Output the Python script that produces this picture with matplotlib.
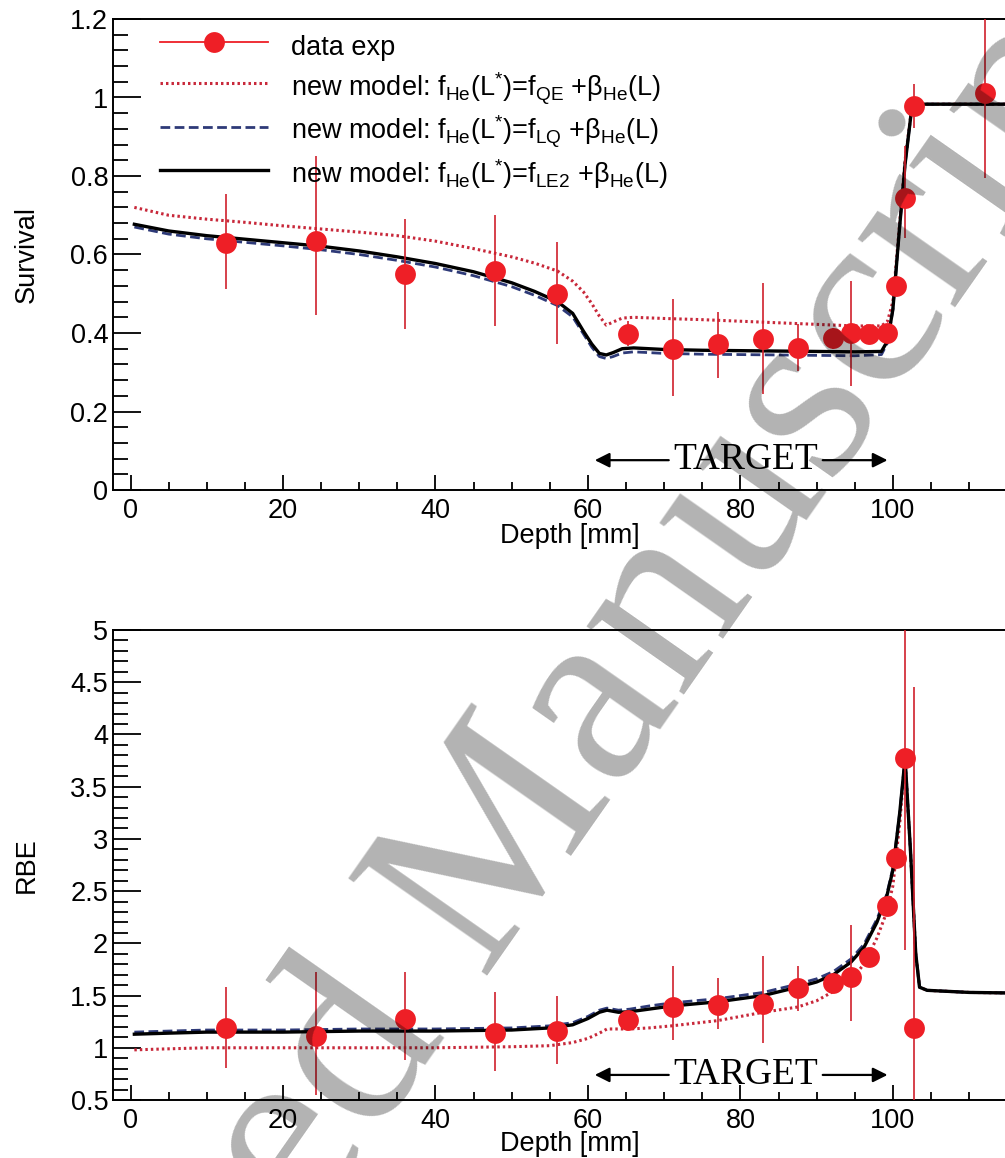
import numpy as np
import matplotlib
matplotlib.use('Agg')
import matplotlib.pyplot as plt
from matplotlib.lines import Line2D
from matplotlib.ticker import MultipleLocator, FuncFormatter

plt.rcParams['font.family'] = ['Liberation Sans', 'DejaVu Sans']
plt.rcParams['mathtext.fontset'] = 'custom'
plt.rcParams['mathtext.rm'] = 'Liberation Sans'
plt.rcParams['mathtext.it'] = 'Liberation Sans:italic'
plt.rcParams['mathtext.bf'] = 'Liberation Sans:bold'

# measured depths of the cell samples [mm]
depth = [12.5, 24.3, 36.0, 47.8, 56.0, 65.2, 71.2, 77.0, 82.9, 87.5, 92.2, 94.5,
         96.9, 99.2, 100.4, 101.6, 102.8, 112.1]

# survival data (value, lower end, upper end of error bar)
surv = [0.630, 0.634, 0.550, 0.558, 0.500, 0.397, 0.360, 0.371, 0.385, 0.363, 0.388, 0.399,
        0.397, 0.400, 0.520, 0.745, 0.978, 1.012]
surv_lo = [0.511, 0.445, 0.410, 0.418, 0.373, 0.367, 0.240, 0.286, 0.244, 0.303, 0.358, 0.265,
           0.385, 0.388, 0.505, 0.643, 0.923, 0.796]
surv_hi = [0.754, 0.850, 0.690, 0.700, 0.632, 0.430, 0.486, 0.454, 0.528, 0.422, 0.413, 0.532,
           0.409, 0.412, 0.535, 0.876, 1.034, 1.230]

# RBE data (no value for the last depth)
rbe = [1.19, 1.11, 1.28, 1.14, 1.16, 1.27, 1.39, 1.41, 1.42, 1.57, 1.62, 1.68,
       1.87, 2.36, 2.82, 3.77, 1.19]
rbe_lo = [0.81, 0.55, 0.88, 0.78, 0.84, 1.24, 1.07, 1.18, 1.05, 1.35, 1.59, 1.26,
          1.84, 2.33, 2.78, 1.94, -2.10]
rbe_hi = [1.58, 1.73, 1.73, 1.53, 1.50, 1.30, 1.78, 1.67, 1.88, 1.78, 1.65, 2.18,
          1.90, 2.39, 2.86, 5.70, 4.45]

# model curves, survival
sx = [0.5, 5, 10, 15, 20, 25, 30, 35, 40, 45, 50, 53, 56, 58, 59.4, 60.5, 61.5, 62.4,
      63.3, 64.5, 66, 70, 75, 80, 85, 90, 95, 98.5, 99.3, 100, 100.8, 101.6, 102.4, 103, 110, 120]
s_le2 = [0.677, 0.660, 0.648, 0.639, 0.630, 0.621, 0.609, 0.594, 0.577, 0.556, 0.528, 0.506,
         0.480, 0.450, 0.405, 0.372, 0.348, 0.344, 0.350, 0.360, 0.362, 0.358, 0.356, 0.355,
         0.354, 0.353, 0.352, 0.353, 0.380, 0.460, 0.650, 0.830, 0.960, 0.983, 0.983, 0.983]
s_lq = [0.670, 0.652, 0.640, 0.631, 0.622, 0.612, 0.600, 0.585, 0.568, 0.546, 0.518, 0.496,
        0.470, 0.441, 0.398, 0.364, 0.340, 0.335, 0.340, 0.349, 0.352, 0.348, 0.346, 0.345,
        0.344, 0.343, 0.342, 0.345, 0.375, 0.460, 0.650, 0.830, 0.960, 0.983, 0.983, 0.983]
s_qe = [0.720, 0.700, 0.690, 0.682, 0.673, 0.665, 0.657, 0.648, 0.634, 0.615, 0.594, 0.578,
        0.558, 0.532, 0.505, 0.475, 0.443, 0.420, 0.428, 0.438, 0.440, 0.437, 0.434, 0.430,
        0.426, 0.422, 0.418, 0.418, 0.430, 0.480, 0.660, 0.840, 0.962, 0.983, 0.983, 0.983]

# model curves, RBE
rx = [0.5, 5, 10, 20, 30, 40, 50, 55, 58, 60, 61.5, 62.5, 64, 65.5, 68, 71, 77, 83, 87.5,
      90, 92.2, 94.5, 96.2, 97.9, 99.2, 100, 100.9, 101.6, 102.3, 103, 103.5, 104.5, 110, 120]
r_le2 = [1.13, 1.14, 1.15, 1.15, 1.16, 1.16, 1.17, 1.19, 1.22, 1.28, 1.34, 1.36, 1.34, 1.345,
         1.37, 1.40, 1.44, 1.50, 1.58, 1.63, 1.70, 1.82, 1.96, 2.20, 2.45, 2.70, 3.25, 3.77,
         2.90, 1.90, 1.58, 1.55, 1.53, 1.52]
r_lq = [1.15, 1.16, 1.17, 1.17, 1.18, 1.18, 1.19, 1.21, 1.24, 1.30, 1.36, 1.38, 1.36, 1.37,
        1.40, 1.43, 1.47, 1.53, 1.61, 1.66, 1.73, 1.85, 1.99, 2.23, 2.47, 2.72, 3.25, 3.77,
        2.90, 1.90, 1.58, 1.55, 1.53, 1.52]
r_qe = [0.98, 0.99, 1.00, 1.00, 1.00, 1.00, 1.01, 1.02, 1.05, 1.09, 1.14, 1.18, 1.18, 1.18,
        1.19, 1.21, 1.26, 1.34, 1.39, 1.45, 1.54, 1.65, 1.80, 2.05, 2.30, 2.55, 3.15, 3.77,
        2.90, 1.90, 1.58, 1.55, 1.53, 1.52]

marker_red = '#ee1f26'
bar_red = '#d0202c'
dot_red = '#c8283a'
navy = '#2e3a78'

W, H = 1005, 1158
fig = plt.figure(figsize=(W / 100, H / 100), dpi=100)


def px_axes(left, top, right, bottom):
    return fig.add_axes([left / W, 1 - bottom / H, (right - left) / W, (bottom - top) / H])


ax1 = px_axes(113, 19, 1040, 490)
ax2 = px_axes(113, 630, 1040, 1100)

xlim = (-2.3, 119.3)


def style(ax, ylo, yhi, ymaj, ymin):
    ax.set_xlim(*xlim)
    ax.set_ylim(ylo, yhi)
    ax.xaxis.set_major_locator(MultipleLocator(20))
    ax.xaxis.set_minor_locator(MultipleLocator(5))
    ax.yaxis.set_major_locator(MultipleLocator(ymaj))
    ax.yaxis.set_minor_locator(MultipleLocator(ymin))
    fmt = FuncFormatter(lambda v, p: '%g' % round(v, 3))
    ax.xaxis.set_major_formatter(fmt)
    ax.yaxis.set_major_formatter(fmt)
    ax.tick_params(axis='both', which='both', direction='in', top=False, right=False,
                   width=1.3, labelsize=19.5)
    ax.tick_params(axis='y', which='major', length=20, pad=3.5)
    ax.tick_params(axis='y', which='minor', length=10.5)
    ax.tick_params(axis='x', which='major', length=10.5, pad=5.5)
    ax.tick_params(axis='x', which='minor', length=5.5)
    for s in ax.spines.values():
        s.set_linewidth(1.4)
    ax.spines['right'].set_visible(False)


def curves(ax, x, qe, lq, le2):
    a = ax.plot(x, qe, color=dot_red, lw=2.2, ls=(0, (0.8, 1.0)), zorder=3)[0]
    b = ax.plot(x, lq, color=navy, lw=2.0, dashes=(3.5, 1.6), zorder=3)[0]
    c = ax.plot(x, le2, color='black', lw=2.4, zorder=4)[0]
    return a, b, c


def data(ax, x, y, lo, hi):
    y = np.array(y)
    err = [y - np.array(lo), np.array(hi) - y]
    ax.errorbar(x, y, yerr=err, fmt='none', ecolor=bar_red, elinewidth=1.2, zorder=5)
    ax.plot(x, y, 'o', color=marker_red, ms=15, mec='none', zorder=6)


def target(ax, y):
    ax.text(80.7, y, 'TARGET', family='Liberation Serif', fontsize=27,
            ha='center', va='center', zorder=7)
    ap = dict(arrowstyle='-|>', mutation_scale=22, lw=1.6, color='black',
              shrinkA=0, shrinkB=0)
    ax.annotate('', xy=(60.9, y), xytext=(70.6, y), arrowprops=ap, zorder=7)
    ax.annotate('', xy=(99.3, y), xytext=(90.8, y), arrowprops=ap, zorder=7)


# top: survival
style(ax1, 0, 1.2, 0.2, 0.04)
l_qe, l_lq, l_le2 = curves(ax1, sx, s_qe, s_lq, s_le2)
data(ax1, depth, surv, surv_lo, surv_hi)
target(ax1, 0.076)
ax1.set_ylabel('Survival', fontsize=19.5)
ax1.yaxis.set_label_coords(-0.079, 0.5)
ax1.set_xlabel('Depth [mm]', fontsize=19.5)
ax1.xaxis.set_label_coords(0.493, -0.07)

h_data = Line2D([], [], color=marker_red, lw=1.3, marker='o', ms=15, mec='none')
labels = ['data exp',
          r'new model: f$_{\mathrm{He}}$(L$^{*}$)=f$_{\mathrm{QE}}$ +$\mathrm{\beta}_{\mathrm{He}}$(L)',
          r'new model: f$_{\mathrm{He}}$(L$^{*}$)=f$_{\mathrm{LQ}}$ +$\mathrm{\beta}_{\mathrm{He}}$(L)',
          r'new model: f$_{\mathrm{He}}$(L$^{*}$)=f$_{\mathrm{LE2}}$ +$\mathrm{\beta}_{\mathrm{He}}$(L)']
ax1.legend([h_data, l_qe, l_lq, l_le2], labels, loc='upper left',
           bbox_to_anchor=(0.0507, 0.979), frameon=False, fontsize=19.5,
           handlelength=4.0, handletextpad=0.85, handleheight=1.6, labelspacing=0.24,
           borderpad=0, borderaxespad=0, numpoints=1)

# bottom: RBE
style(ax2, 0.5, 5, 0.5, 0.1)
curves(ax2, rx, r_qe, r_lq, r_le2)
data(ax2, depth[:len(rbe)], rbe, rbe_lo, rbe_hi)
target(ax2, 0.74)
ax2.set_ylabel('RBE', fontsize=19.5)
ax2.yaxis.set_label_coords(-0.079, 0.5)
ax2.set_xlabel('Depth [mm]', fontsize=19.5)
ax2.xaxis.set_label_coords(0.493, -0.066)

# watermark of the source page
fig.text(0.469, 0.232, 'Accepted Manuscript', family='Liberation Serif', fontsize=186,
         color='black', alpha=0.3, rotation=55, rotation_mode='anchor',
         ha='center', va='center', zorder=20)

fig.savefig('out.png', dpi=100)
